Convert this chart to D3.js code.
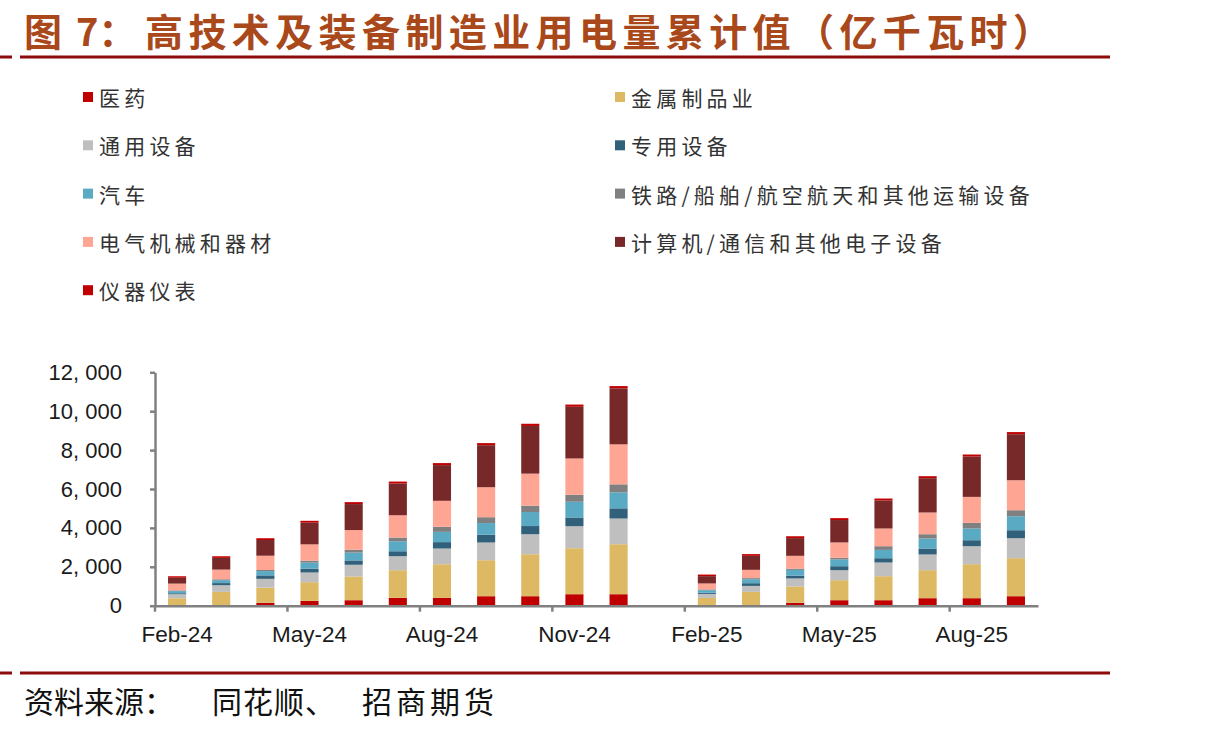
<!DOCTYPE html>
<html>
<head>
<meta charset="utf-8">
<script src="https://cdn.jsdelivr.net/npm/d3@7/dist/d3.min.js"></script>
<style>
  body { margin: 0; background: #fff; }
  svg { display: block; }
</style>
</head>
<body>
<svg id="chart" width="1206" height="735"></svg>
<script>
// months on the category axis (Jan-25 has no data)
const months = ["Feb-24", "Mar-24", "Apr-24", "May-24", "Jun-24", "Jul-24", "Aug-24", "Sep-24",
  "Oct-24", "Nov-24", "Dec-24", "Jan-25", "Feb-25", "Mar-25", "Apr-25", "May-25", "Jun-25",
  "Jul-25", "Aug-25", "Sep-25"];
const tickMonths = ["Feb-24", "May-24", "Aug-24", "Nov-24", "Feb-25", "May-25", "Aug-25"];
const yTicks = [0, 2000, 4000, 6000, 8000, 10000, 12000];

// cumulative values, 亿千瓦时
const pharma = [null, null, 150, 247, 283, 401, 400, 488, 488, 591, 591, null, null, null, 150, 283, 283, 386, 386, 488];
const metal = [385, 709, 780, 961, 1220, 1424, 1732, 1851, 2159, 2365, 2570, null, 400, 710, 840, 1028, 1234, 1440, 1748, 1954];
const general = [206, 344, 450, 499, 601, 720, 807, 910, 1028, 1131, 1321, null, 206, 308, 411, 514, 704, 807, 925, 1028];
const special = [50, 110, 180, 200, 225, 255, 330, 400, 420, 450, 525, null, 60, 139, 139, 206, 221, 308, 308, 411];
const auto = [110, 150, 220, 308, 400, 514, 527, 601, 720, 807, 822, null, 130, 206, 300, 344, 427, 514, 601, 720];
const rail = [35, 45, 55, 100, 150, 190, 260, 300, 330, 360, 411, null, 40, 55, 65, 90, 190, 221, 290, 308];
const electric = [350, 499, 735, 838, 1010, 1146, 1337, 1542, 1645, 1866, 2056, null, 308, 427, 660, 787, 910, 1116, 1337, 1542];
const computer = [300, 601, 807, 1116, 1336, 1629, 1835, 2159, 2452, 2658, 2878, null, 375, 720, 910, 1152, 1440, 1763, 2072, 2365];
const instrument = [78, 84, 92, 96, 100, 103, 104, 108, 112, 113, 117, null, 82, 88, 95, 98, 101, 103, 106, 110];

const seriesNames = ["医药", "金属制品业", "通用设备", "专用设备", "汽车",
  "铁路/船舶/航空航天和其他运输设备", "电气机械和器材", "计算机/通信和其他电子设备", "仪器仪表"];
const seriesValues = [pharma, metal, general, special, auto, rail, electric, computer, instrument];
const colors = ["#c00000", "#ddb964", "#bfbfbf", "#31617a", "#5aaac4", "#808080", "#ffa593", "#772828", "#c00000"];

var svg = d3.select("#chart");

var dims = {
  left: 155,
  right: 1038,
  top: 372.3,
  bottom: 605.7,
};

// title
var title = svg.append("text")
  .attr("y", 29)
  .attr("dominant-baseline", "central")
  .style("font", "bold 38px 'Noto Sans CJK SC'")
  .style("fill", "#a9481a");
title.append("tspan").attr("x", 24).text("图");
title.append("tspan").attr("x", 76).text("7：");
title.append("tspan")
  .attr("x", 145)
  .attr("textLength", 906)
  .attr("lengthAdjust", "spacing")
  .text("高技术及装备制造业用电量累计值（亿千瓦时）");

// rules
[57, 673].forEach(function (y) {
  svg.append("rect").attr("x", 0).attr("y", y - 1.5).attr("width", 12).attr("height", 3).attr("fill", "#8c0c0c");
  svg.append("rect").attr("x", 20).attr("y", y - 1.5).attr("width", 1090).attr("height", 3).attr("fill", "#8c0c0c");
});

// source
var source = svg.append("text")
  .attr("y", 713)
  .style("font", "30px 'Noto Sans CJK SC'")
  .style("fill", "#111");
source.append("tspan").attr("x", 24).style("letter-spacing", "0px").text("资料来源：");
source.append("tspan").attr("x", 212).style("letter-spacing", "1px").text("同花顺、");
source.append("tspan").attr("x", 362).style("letter-spacing", "4px").text("招商期货");

// legend
var legend = svg.append("g");
seriesNames.forEach(function (name, i) {
  var col = i % 2;
  var row = Math.floor(i / 2);
  var g = legend.append("g")
    .attr("transform", "translate(" + (col === 0 ? 83 : 615) + "," + (97 + row * 48.3) + ")");
  g.append("rect").attr("x", 0).attr("y", -5).attr("width", 10).attr("height", 10).attr("fill", colors[i]);
  g.append("text")
    .attr("x", 16)
    .attr("y", 0)
    .attr("dominant-baseline", "central")
    .style("font", "21px 'Noto Sans CJK SC'")
    .style("letter-spacing", "4.2px")
    .style("fill", "#333")
    .text(name);
});

// stack
var table = months.map(function (m, i) {
  var row = { month: m };
  seriesNames.forEach(function (s, k) {
    row[s] = seriesValues[k][i] || 0;
  });
  row.hasData = seriesValues.some(function (arr) { return arr[i] != null; });
  return row;
});
var stacked = d3.stack().keys(seriesNames)(table);

var xScale = d3.scaleBand()
  .domain(months)
  .range([dims.left, dims.right])
  .paddingInner(0.59)
  .paddingOuter(0.295);
var xCat = d3.scaleBand().domain(months).range([dims.left, dims.right]);
var yScale = d3.scaleLinear().domain([0, 12000]).range([dims.bottom, dims.top]);

// bars
svg.append("g")
  .selectAll("g")
  .data(stacked)
  .enter()
  .append("g")
  .attr("fill", function (d, i) { return colors[i]; })
  .selectAll("rect")
  .data(function (d) { return d.filter(function (p) { return p.data.hasData; }); })
  .enter()
  .append("rect")
  .attr("x", function (d) { return xScale(d.data.month); })
  .attr("width", xScale.bandwidth())
  .attr("y", function (d) { return yScale(d[1]); })
  .attr("height", function (d) { return yScale(d[0]) - yScale(d[1]); });

// y axis
var yAxis = d3.axisLeft(yScale)
  .tickValues(yTicks)
  .tickSizeInner(5)
  .tickSizeOuter(0)
  .tickPadding(28)
  .tickFormat(function (d) { return d3.format(",")(d).replace(",", ", "); });
var gy = svg.append("g").attr("transform", "translate(" + dims.left + ",0)").call(yAxis);
gy.select(".domain").attr("stroke", "#808080").attr("stroke-width", 2.5);
gy.selectAll(".tick line").attr("stroke", "#808080").attr("stroke-width", 2.5);
gy.selectAll("text").style("font", "22px 'Liberation Sans', Arial, sans-serif").style("fill", "#1a1a1a");

// x axis
var xAxis = d3.axisBottom(xCat)
  .tickValues(tickMonths)
  .tickSize(0)
  .tickPadding(20);
var gx = svg.append("g").attr("transform", "translate(0," + dims.bottom + ")").call(xAxis);
gx.select(".domain").attr("stroke", "#808080").attr("stroke-width", 2.5);
gx.selectAll("text").style("font", "22.5px 'Liberation Sans', Arial, sans-serif").style("fill", "#1a1a1a");
gx.selectAll(".tickmark")
  .data(tickMonths)
  .enter()
  .append("line")
  .attr("class", "tickmark")
  .attr("x1", function (d) { return xCat(d); })
  .attr("x2", function (d) { return xCat(d); })
  .attr("y1", 0)
  .attr("y2", 6)
  .attr("stroke", "#808080")
  .attr("stroke-width", 2.5);
</script>
</body>
</html>
